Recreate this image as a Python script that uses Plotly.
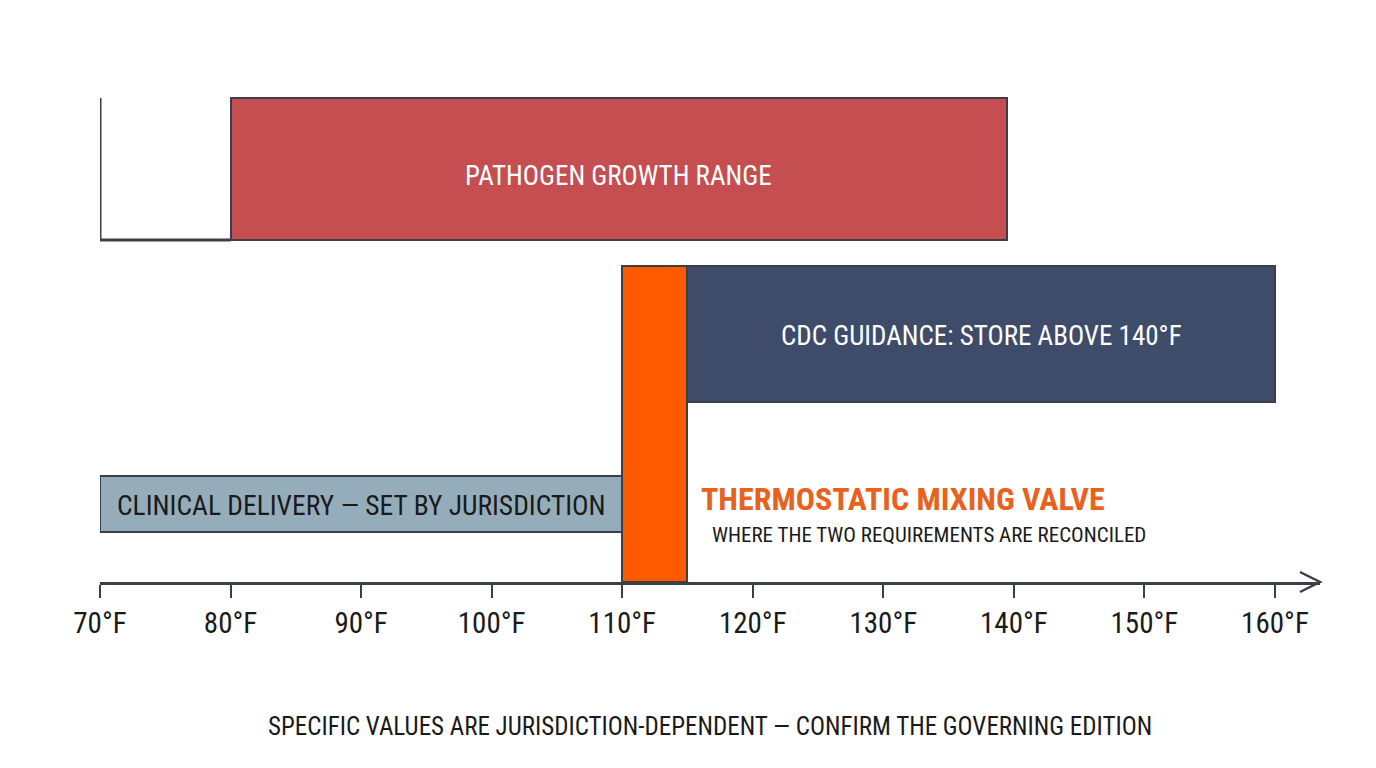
import plotly.graph_objects as go

# temperature bands (deg F)
band_names = ["PATHOGEN GROWTH RANGE", "CDC GUIDANCE: STORE ABOVE 140°F",
              "THERMOSTATIC MIXING VALVE", "CLINICAL DELIVERY — SET BY JURISDICTION"]
band_start = [80, 115, 110, 70]
band_end = [139.5, 160, 115, 110]

tick_vals = [70, 80, 90, 100, 110, 120, 130, 140, 150, 160]
tick_text = [f"{v}°F" for v in tick_vals]

# styling (row centre / thickness in plot pixels above the axis line)
row_center = [413, 248, 158, 78]
row_thick = [142, 136, 316, 56]
band_colors = ["#c44e50", "#3e4c6a", "#ff5a00", "#95adbb"]
text_colors = ["white", "white", None, "#1a1a1a"]
text_sizes = [27, 27, None, 27.5]
text_shift = [-7, -2, 0, -1]

FONT = "Roboto Condensed, Liberation Sans Narrow, DejaVu Sans Condensed, sans-serif"
EDGE = "#3b3f47"
X_MIN, X_MAX = 70, 163.45

fig = go.Figure()

fig.add_trace(go.Bar(
    orientation="h",
    y=row_center,
    base=band_start,
    x=[e - s for s, e in zip(band_start, band_end)],
    width=row_thick,
    marker=dict(color=band_colors, line=dict(color=EDGE, width=2)),
    hoverinfo="skip",
    showlegend=False,
))

# open frame to the left of the pathogen band
top = row_center[0] + row_thick[0] / 2
bot = row_center[0] - row_thick[0] / 2
fig.add_trace(go.Scatter(
    x=[X_MIN, X_MIN, band_start[0]], y=[top, bot, bot],
    mode="lines", line=dict(color=EDGE, width=3),
    hoverinfo="skip", showlegend=False, cliponaxis=False,
))

# labels inside the bands
for i in (0, 1, 3):
    fig.add_annotation(
        x=(band_start[i] + band_end[i]) / 2, y=row_center[i], yshift=text_shift[i],
        text=band_names[i], showarrow=False,
        font=dict(family=FONT, size=text_sizes[i], color=text_colors[i]),
    )

# valve callout
fig.add_annotation(
    x=band_end[2], y=row_center[3] + 5, xshift=12,
    text="<b>" + band_names[2] + "</b>", showarrow=False, xanchor="left",
    font=dict(family=FONT, size=32, color="#e8621e"),
)
fig.add_annotation(
    x=band_end[2], y=row_center[3] - 31, xshift=23,
    text="WHERE THE TWO REQUIREMENTS ARE RECONCILED", showarrow=False, xanchor="left",
    font=dict(family=FONT, size=21, color="#1a1a1a"),
)

# axis arrowhead at the right end of the x axis
fig.add_shape(
    type="path", xref="paper", yref="paper",
    xsizemode="pixel", ysizemode="pixel", xanchor=1, yanchor=0,
    path="M -20,10 L 0,0 L -20,-10",
    line=dict(color=EDGE, width=2.5),
)

fig.add_annotation(
    xref="paper", yref="paper", x=0.5, y=-0.2526, yanchor="middle",
    text="SPECIFIC VALUES ARE JURISDICTION-DEPENDENT — CONFIRM THE GOVERNING EDITION",
    showarrow=False, font=dict(family=FONT, size=25, color="#1a1a1a"),
)

fig.update_layout(
    width=1376, height=768,
    margin=dict(l=92, r=64, t=0, b=194),
    paper_bgcolor="white", plot_bgcolor="white",
    bargap=0,
    xaxis=dict(
        range=[X_MIN, X_MAX], tickvals=tick_vals, ticktext=tick_text,
        showgrid=False, zeroline=False, showline=True, linecolor=EDGE, linewidth=2.5,
        ticks="outside", ticklen=13, tickwidth=2, tickcolor=EDGE,
        ticklabelstandoff=0,
        tickfont=dict(family=FONT, size=29, color="#1a1a1a"),
        fixedrange=True,
    ),
    yaxis=dict(range=[0, 574], visible=False, fixedrange=True),
)

fig.write_html("out.html")
